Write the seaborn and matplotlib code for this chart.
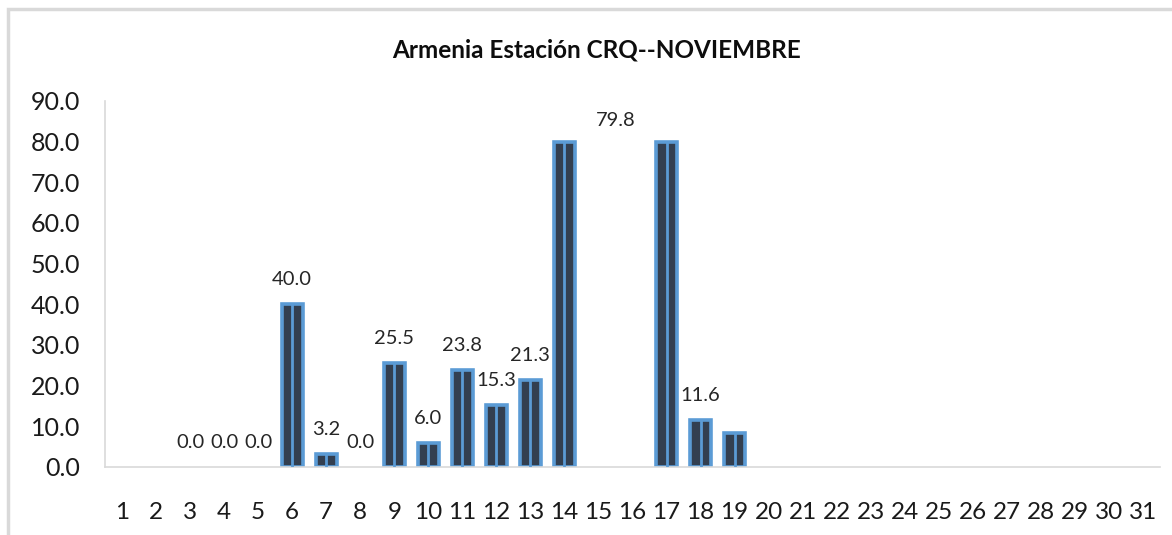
import numpy as np
import pandas as pd
import matplotlib
matplotlib.use('Agg')
import matplotlib.pyplot as plt
from matplotlib.patches import Rectangle
import seaborn as sns

# Data: daily values for November (NaN = no data)
days = [str(d) for d in range(1, 32)]
values = [np.nan, np.nan, 0.0, 0.0, 0.0, 40.0, 3.2, 0.0, 25.5, 6.0,
          23.8, 15.3, 21.3, 79.8, np.nan, np.nan, 79.8, 11.6, 8.4, np.nan,
          np.nan, np.nan, np.nan, np.nan, np.nan, np.nan, np.nan, np.nan, np.nan, np.nan, np.nan]
# labels shown on the chart (day -> text)
label_days = [3, 4, 5, 6, 7, 8, 9, 10, 11, 12, 13, 18]
peak_label = '79.8'
title = 'Armenia Estación CRQ--NOVIEMBRE'

df = pd.DataFrame({'day': days, 'value': values})

sns.set_style('white')
plt.rcParams['font.family'] = ['Lato', 'DejaVu Sans']

fig = plt.figure(figsize=(11.72, 5.35), dpi=100)
ax = fig.add_axes([105 / 1172, 1 - 467 / 535, 1055 / 1172, 366 / 535])

sns.barplot(data=df, x='day', y='value', order=days, color='#333F50',
            width=0.62, edgecolor='#5B9BD5', linewidth=2.6, saturation=1, ax=ax)

# no outline on zero-height bars
for p in ax.patches:
    if p.get_height() == 0:
        p.set_linewidth(0)

# light centre stripe in each bar
for i, v in enumerate(values):
    if not np.isnan(v) and v > 0:
        ax.vlines(i, 0, v, color='#5B9BD5', linewidth=2.0, zorder=3)

# data labels
for d in label_days:
    v = values[d - 1]
    ax.text(d - 1, v + 6.0, f'{v:.1f}', ha='center', va='center', fontsize=14.5, color='#262626')
ax.text(14.5, values[13] + 5.4, peak_label, ha='center', va='center', fontsize=14.5, color='#262626')

ax.set_ylim(0, 90)
ax.set_xlim(-0.5, 30.5)
ax.set_yticks(np.arange(0, 91, 10))
ax.set_yticklabels([f'{t:.1f}' for t in np.arange(0, 91, 10)], fontsize=18, color='#1a1a1a')
ax.tick_params(axis='x', labelsize=17.5, pad=25, length=0, colors='#1a1a1a')
ax.tick_params(axis='y', pad=18, length=0)
ax.set_xlabel('')
ax.set_ylabel('')

for s in ['top', 'right']:
    ax.spines[s].set_visible(False)
ax.spines['left'].set_color('#d9d9d9')
ax.spines['bottom'].set_color('#d9d9d9')
ax.spines['left'].set_linewidth(1.2)
ax.spines['bottom'].set_linewidth(1.2)

fig.text(597 / 1172, 1 - 50 / 535, title, ha='center', va='center', fontsize=17.5, fontweight='bold', color='#0d0d0d')

# chart area border
fig.patches.append(Rectangle((8 / 1172, -0.1), 1.2, 1 - 9 / 535 + 0.1, transform=fig.transFigure,
                             fill=False, edgecolor='#d9d9d9', linewidth=2.5))

fig.savefig('out.png', dpi=100)
